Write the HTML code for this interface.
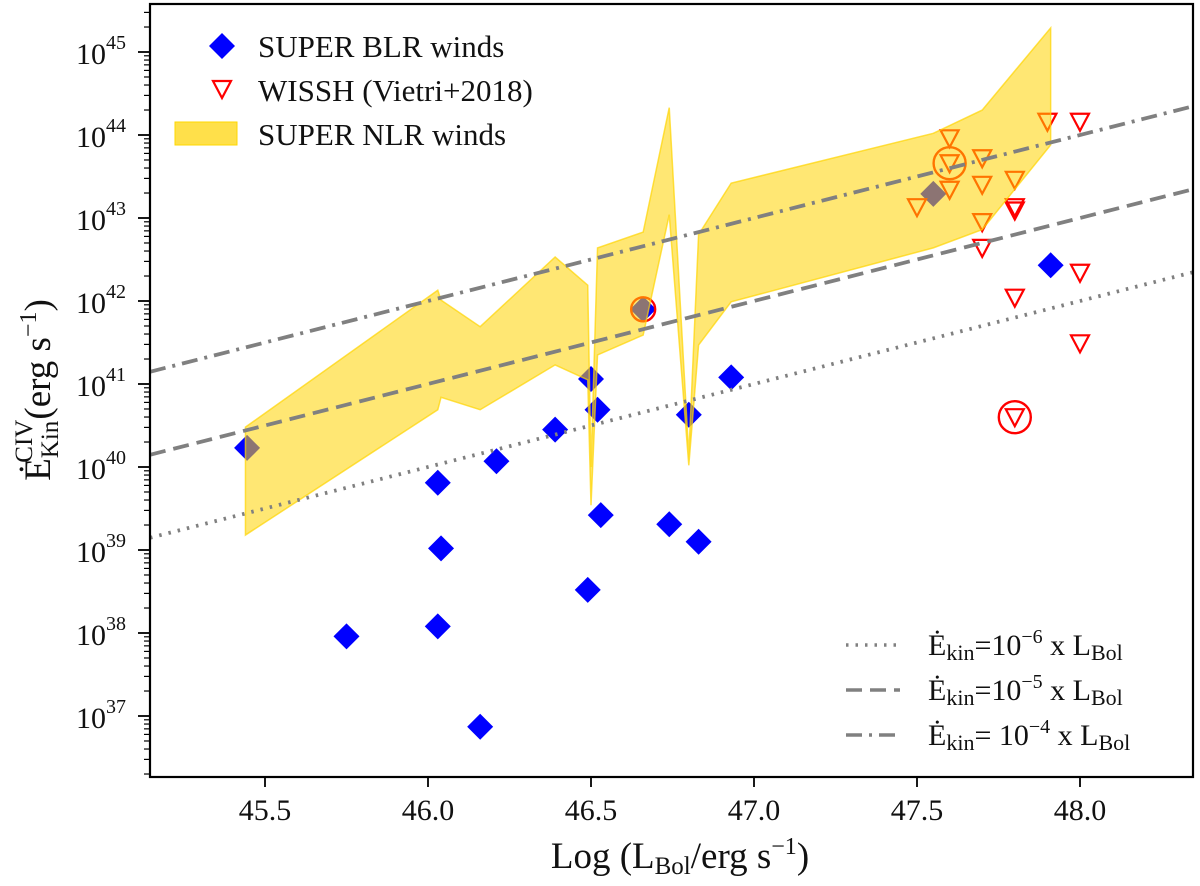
<!DOCTYPE html>
<html><head><meta charset="utf-8"><style>
body{margin:0;background:#fff}
svg{display:block}
text{font-family:"Liberation Serif",serif}
</style></head><body>
<svg id="chart" width="1200" height="886" viewBox="0 0 1200 886" font-family="Liberation Serif, serif">
<g id="marks"></g>
<g font-size="31" fill="#111">
<polygon points="222,33 235,46 222,59 209,46" fill="#0000ff"/>
<text x="258" y="57">SUPER BLR winds</text>
<polygon points="213,81 231,81 222,98" fill="none" stroke="#ff0000" stroke-width="2.2"/>
<text x="258" y="101">WISSH (Vietri+2018)</text>
<rect x="175" y="122" width="62" height="23" fill="#ffe04a" stroke="#ffd700"/>
<text x="258" y="145">SUPER NLR winds</text>
</g>
<g fill="#111">
<line x1="846" y1="645" x2="900" y2="645" stroke="#808080" stroke-width="3.5" stroke-dasharray="2.5,7"/>
<line x1="846" y1="690" x2="900" y2="690" stroke="#808080" stroke-width="3.5" stroke-dasharray="16,8"/>
<line x1="846" y1="735" x2="900" y2="735" stroke="#808080" stroke-width="3.5" stroke-dasharray="16,7,3,7"/>
<text x="928" y="655" font-size="30">Ė<tspan font-size="22" dy="5">kin</tspan><tspan dy="-5">=10</tspan><tspan font-size="20" dy="-12">−6</tspan><tspan dy="12"> x L</tspan><tspan font-size="22" dy="5">Bol</tspan></text>
<text x="928" y="700" font-size="30">Ė<tspan font-size="22" dy="5">kin</tspan><tspan dy="-5">=10</tspan><tspan font-size="20" dy="-12">−5</tspan><tspan dy="12"> x L</tspan><tspan font-size="22" dy="5">Bol</tspan></text>
<text x="928" y="745" font-size="30">Ė<tspan font-size="22" dy="5">kin</tspan><tspan dy="-5">= 10</tspan><tspan font-size="20" dy="-12">−4</tspan><tspan dy="12"> x L</tspan><tspan font-size="22" dy="5">Bol</tspan></text>
</g>
<text x="680" y="868" font-size="37" text-anchor="middle" fill="#111">Log (L<tspan font-size="25" dy="6">Bol</tspan><tspan dy="-6">/erg s</tspan><tspan font-size="24" dy="-14">−1</tspan><tspan dy="14">)</tspan></text>
<text transform="translate(50,390) rotate(-90)" font-size="37" text-anchor="middle" fill="#111">Ė<tspan font-size="25" dy="8">Kin</tspan><tspan font-size="25" dx="-42" dy="-26">CIV</tspan><tspan dy="18">(erg s</tspan><tspan font-size="24" dy="-14">−1</tspan><tspan dy="14">)</tspan></text>
</svg>
<script>
const blrL=[45.445,45.75,46.03,46.04,46.03,46.16,46.21,46.39,46.49,46.50,46.52,46.53,46.66,46.74,46.80,46.83,46.93,47.55,47.91];
const blrE=[40.23,37.96,39.81,39.02,38.08,36.87,40.07,40.45,38.52,41.06,40.69,39.42,41.90,39.31,40.63,39.10,41.08,43.29,42.43];
const wisshL=[47.60,47.60,47.60,47.50,47.70,47.70,47.80,47.70,47.80,47.80,47.70,47.90,48.00,47.80,48.00,48.00,47.80];
const wisshE=[43.96,43.66,43.34,43.13,43.72,43.40,43.46,42.95,43.13,43.09,42.64,44.16,44.16,42.04,42.34,41.49,40.60];
const circL=[46.66,47.60,47.80];
const circE=[41.90,43.66,40.60];
const bandL=[45.44,46.03,46.04,46.16,46.39,46.49,46.50,46.52,46.66,46.74,46.80,46.83,46.93,47.55,47.70,47.91];
const bandUp=[40.48,42.13,42.01,41.69,42.53,42.19,40.0,42.64,42.83,44.33,40.14,42.80,43.42,44.02,44.30,45.29];
const bandLo=[39.18,40.69,40.84,40.69,41.23,41.05,39.54,41.35,41.59,43.04,40.02,41.47,41.99,42.64,42.86,43.88];
const xTicks=[45.5,46.0,46.5,47.0,47.5,48.0];
const yTicks=[37,38,39,40,41,42,43,44,45];
const ratios=[-6,-5,-4];

const X0=150,X1=1193,Y0=4,Y1=777;
const xs=v=>265+(v-45.5)*326;
const ys=v=>716-(v-37)*83;
const xmin=45.5-(265-X0)/326, xmax=45.5+(X1-265)/326;
const NS="http://www.w3.org/2000/svg";
const g=document.getElementById('marks');
function mk(tag,attrs){const e=document.createElementNS(NS,tag);for(const k in attrs)e.setAttribute(k,attrs[k]);if(tag==='text')e.setAttribute('font-family','Liberation Serif, serif');g.appendChild(e);return e;}

blrL.forEach((l,i)=>{const x=xs(l),y=ys(blrE[i]),r=13;
 const p=mk('polygon',{points:`${x},${y-r} ${x+r},${y} ${x},${y+r} ${x-r},${y}`,fill:'#0000ff'});
 
 });
wisshL.forEach((l,i)=>{const x=xs(l),y=ys(wisshE[i]);
 const p=mk('polygon',{points:`${x-9},${y-8} ${x+9},${y-8} ${x},${y+9}`,fill:'none',stroke:'#ff0000','stroke-width':2.2});
 
 });
circL.forEach((l,i)=>{const c=mk('circle',{cx:xs(l),cy:ys(circE[i]),r:i==0?12:16,fill:'none',stroke:'#ff0000','stroke-width':2.4});
 
 });
let pts=bandL.map((l,i)=>xs(l)+','+ys(bandUp[i]));
for(let i=bandL.length-1;i>=0;i--)pts.push(xs(bandL[i])+','+ys(bandLo[i]));
const band=mk('polygon',{points:pts.join(' '),fill:'rgba(255,212,0,0.55)',stroke:'rgba(255,212,0,0.7)','stroke-width':1.5});


const dashes=['2.5,7','16,8','16,7,3,7'];
ratios.forEach((r,i)=>{const ln=mk('line',{x1:X0,y1:ys(xmin+r),x2:X1,y2:ys(xmax+r),stroke:'#808080','stroke-width':3.8,'stroke-dasharray':dashes[i]});
 
 });
const fr=mk('rect',{x:X0,y:Y0,width:X1-X0,height:Y1-Y0,fill:'none',stroke:'#000','stroke-width':2.2});


xTicks.forEach(t=>{const x=xs(t);mk('line',{x1:x,y1:Y1,x2:x,y2:Y1+10,stroke:'#000','stroke-width':1.8});
 const tx=mk('text',{x:x,y:Y1+43,'font-size':30,'text-anchor':'middle',fill:'#111'});tx.textContent=t.toFixed(1);
 
 });
yTicks.forEach(t=>{const y=ys(t);mk('line',{x1:X0-12,y1:y,x2:X0,y2:y,stroke:'#000','stroke-width':1.8});
 const tx=mk('text',{x:X0-44,y:y+12,'font-size':30,'text-anchor':'end',fill:'#111'});tx.textContent='10';
 
 
 const sp=mk('text',{x:X0-44,y:y-3,'font-size':20,fill:'#111'});sp.textContent=String(t);
 
 });
for(let d=36;d<=45;d++)for(let m=2;m<=9;m++){const y=ys(d+Math.log10(m));if(y>Y0&&y<Y1)mk('line',{x1:X0-6,y1:y,x2:X0,y2:y,stroke:'#000','stroke-width':1.2});}
</script>
</body></html>
